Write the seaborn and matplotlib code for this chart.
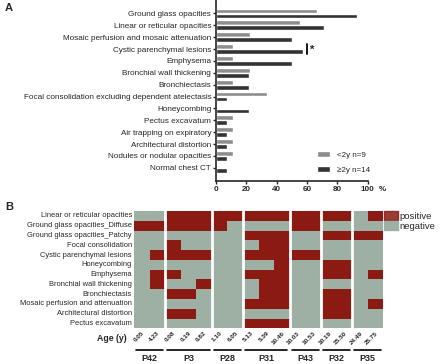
import numpy as np
import pandas as pd
import matplotlib
matplotlib.use("Agg")
import matplotlib.pyplot as plt
import matplotlib.transforms as mtransforms
from matplotlib.colors import ListedColormap
from matplotlib.patches import Patch
import seaborn as sns

sns.set_style("ticks")
plt.rcParams["font.family"] = ["Liberation Sans", "DejaVu Sans"]

# panel A: porcentaje de pacientes con cada hallazgo
hallazgos = ["Ground glass opacities", "Linear or reticular opacities",
             "Mosaic perfusion and mosaic attenuation", "Cystic parenchymal lesions",
             "Emphysema", "Bronchial wall thickening", "Bronchiectasis",
             "Focal consolidation excluding dependent atelectasis", "Honeycombing",
             "Pectus excavatum", "Air trapping on expiratory", "Architectural distortion",
             "Nodules or nodular opacities", "Normal chest CT"]
menor_2 = [66.7, 55.6, 22.2, 11.1, 11.1, 22.2, 11.1, 33.3, 0, 11.1, 11.1, 11.1, 11.1, 0]
mayor_2 = [92.9, 71.4, 50.0, 57.1, 50.0, 21.4, 21.4, 7.1, 21.4, 7.1, 7.1, 7.1, 7.1, 7.1]
grupos = ["<2y n=9", "\u22652y n=14"]

# panel B: hallazgos por estudio
filas = ["Linear or reticular opacities", "Ground glass opacities_Diffuse",
         "Ground glass opacities_Patchy", "Focal consolidation",
         "Cystic parenchymal lesions", "Honeycombing", "Emphysema",
         "Bronchial wall thickening", "Bronchiectasis",
         "Mosaic perfusion and attenuation", "Architectural distortion",
         "Pectus excavatum"]
pacientes = ["P42", "P3", "P28", "P31", "P43", "P32", "P35"]
n_estudios = [2, 3, 2, 3, 2, 2, 2]
edades = ["0.05", "4.23", "0.08", "0.19", "0.82", "1.10", "6.05", "5.13", "5.39",
          "10.46", "10.03", "10.53", "10.19", "15.50", "24.49", "25.75"]
matriz = [
    [0, 0, 1, 1, 1, 1, 1, 1, 1, 1, 1, 1, 1, 1, 0, 1],
    [1, 1, 1, 1, 1, 1, 0, 0, 0, 0, 1, 1, 0, 0, 0, 0],
    [0, 0, 0, 0, 0, 0, 0, 1, 1, 1, 0, 0, 1, 1, 1, 1],
    [0, 0, 1, 0, 0, 0, 0, 0, 1, 1, 0, 0, 0, 0, 0, 0],
    [0, 1, 1, 1, 1, 0, 0, 1, 1, 1, 1, 1, 0, 0, 0, 0],
    [0, 0, 0, 0, 0, 0, 0, 0, 0, 1, 0, 0, 1, 1, 0, 0],
    [0, 1, 1, 0, 0, 0, 0, 1, 1, 1, 0, 0, 1, 1, 0, 1],
    [0, 1, 0, 0, 1, 0, 0, 0, 1, 1, 0, 0, 0, 0, 0, 0],
    [0, 0, 1, 1, 0, 0, 0, 0, 1, 1, 0, 0, 1, 1, 0, 0],
    [0, 0, 0, 0, 0, 0, 0, 1, 1, 1, 0, 0, 1, 1, 0, 1],
    [0, 0, 1, 1, 0, 0, 0, 0, 0, 0, 0, 0, 1, 1, 0, 0],
    [0, 0, 0, 0, 0, 0, 0, 1, 1, 1, 0, 0, 0, 0, 0, 0],
]

gris = "#8c8c8c"
oscuro = "#333333"
rojo = "#8a1a12"
verde = "#9eb0a4"

fig = plt.figure(figsize=(4.4, 3.64), dpi=100)

#### panel A
axA = fig.add_axes([0.491, 0.503, 0.345, 0.496])
datos = pd.DataFrame({"hallazgo": hallazgos * 2,
                      "pct": menor_2 + mayor_2,
                      "grupo": [grupos[0]] * len(hallazgos) + [grupos[1]] * len(hallazgos)})
sns.barplot(data=datos, y="hallazgo", x="pct", hue="grupo", palette=[gris, oscuro],
            orient="h", ax=axA, width=0.84, gap=0.04, saturation=1)
axA.set_xlim(0, 100)
axA.set_xticks([0, 20, 40, 60, 80, 100])
axA.set_xlabel("")
axA.set_ylabel("")
sns.despine(ax=axA)
for s in ["left", "bottom"]:
    axA.spines[s].set_linewidth(1.2)
axA.tick_params(axis="y", labelsize=5.9, length=2.5, width=1, pad=1)
axA.tick_params(axis="x", labelsize=5.8, length=2.5, width=1, pad=1.5)
for t in axA.get_xticklabels():
    t.set_fontweight("bold")
axA.text(1.075, -0.027, "%", transform=axA.transAxes, fontsize=5.8, fontweight="bold",
         va="top", ha="left")
# marca de significancia
i = hallazgos.index("Cystic parenchymal lesions")
axA.plot([60, 60], [i - 0.4, i + 0.4], color="black", lw=1.3)
axA.text(62, i + 0.1, "*", fontsize=8, fontweight="bold", va="center", ha="left")
axA.legend(loc="lower left", bbox_to_anchor=(0.62, 0.0), frameon=False, fontsize=5.8,
           handlelength=1.6, handleheight=0.8, handletextpad=0.8, labelspacing=0.9)

#### panel B
axB = fig.add_axes([0.3045, 0.098, 0.5665, 0.3222])
df = pd.DataFrame(matriz, index=filas, columns=edades)
sns.heatmap(df, cmap=ListedColormap([verde, rojo]), cbar=False, ax=axB, linewidths=0,
            vmin=0, vmax=1, xticklabels=True, yticklabels=True)
limites = np.cumsum(n_estudios)
for x in limites[:-1]:
    axB.axvline(x, color="white", lw=2)
axB.tick_params(length=0, pad=1.5)
axB.set_yticklabels(filas, fontsize=5.4, rotation=0)
axB.set_xticklabels(edades, fontsize=4.6, fontweight="bold", rotation=45, ha="right",
                    rotation_mode="anchor")
trans = mtransforms.blended_transform_factory(axB.transData, axB.transAxes)
inicio = 0
for p, n in zip(pacientes, n_estudios):
    axB.plot([inicio + 0.15, inicio + n - 0.15], [-0.185, -0.185], color="black", lw=1.2,
             transform=trans, clip_on=False)
    axB.text(inicio + n / 2, -0.215, p, transform=trans, fontsize=6.5, fontweight="bold",
             ha="center", va="top")
    inicio += n
axB.text(-0.03, -0.085, "Age (y)", transform=axB.transAxes, fontsize=6.3, fontweight="bold",
         ha="right", va="center")
axB.legend(handles=[Patch(color=rojo, alpha=0.85), Patch(color=verde)],
           labels=["positive", "negative"], loc="upper left", bbox_to_anchor=(1.005, 1.0),
           frameon=False, fontsize=6.8, handlelength=1.4, handleheight=1.1,
           handletextpad=0.2, labelspacing=0.0, borderpad=0, borderaxespad=0)

fig.text(5 / 440, 1 - 8 / 364, "A", fontsize=8, fontweight="bold", va="center")
fig.text(5 / 440, 1 - 207 / 364, "B", fontsize=8, fontweight="bold", va="center")

fig.savefig("out.png", dpi=100)
